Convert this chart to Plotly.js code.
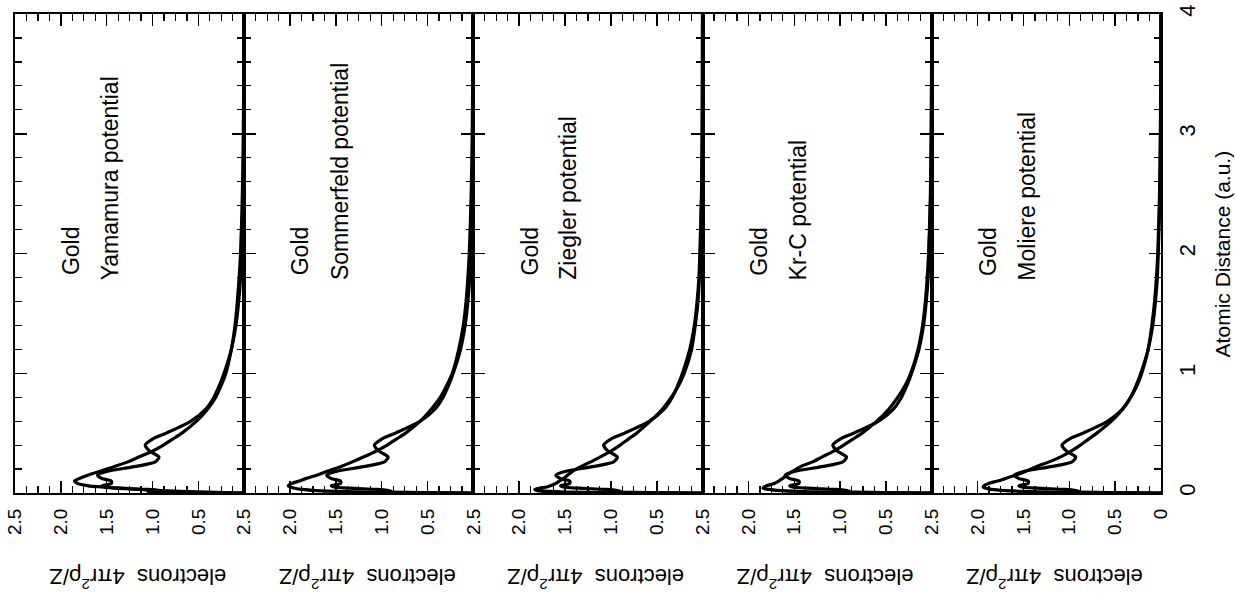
<!DOCTYPE html>
<html>
<head>
<meta charset="utf-8">
<script src="https://cdn.plot.ly/plotly-3.0.1.min.js"></script>
<style>html,body{margin:0;padding:0;background:#fff;}#chart{width:1235px;height:597px;}</style>
</head>
<body>
<div id="chart"></div>
<script>
// Atomic distance grid (a.u.)
const rGrid = [0, 0.005, 0.01, 0.02, 0.03, 0.04, 0.05, 0.06, 0.08, 0.1,
  0.12, 0.15, 0.18, 0.22, 0.26, 0.3, 0.35, 0.4, 0.45, 0.5,
  0.6, 0.7, 0.8, 0.9, 1.0, 1.2, 1.4, 1.6, 1.8, 2.0,
  2.5, 3.0, 3.5, 4.0];
// Shell-structured gold density (electrons 4πr²ρ/Z)
const hartreeFock = [0, 0.8, 1.05, 0.9, 1.05, 1.35, 1.52, 1.55, 1.45, 1.45,
  1.55, 1.6, 1.5, 1.2, 0.97, 0.93, 1.03, 1.08, 1.0, 0.85,
  0.58, 0.42, 0.33, 0.27, 0.22, 0.14, 0.09, 0.06, 0.04, 0.03,
  0.012, 0.005, 0.002, 0.001];
const yamamura = [0, 0.3, 0.5, 0.9, 1.15, 1.4, 1.55, 1.7, 1.82, 1.85,
  1.8, 1.7, 1.58, 1.42, 1.27, 1.15, 1.0, 0.88, 0.78, 0.68,
  0.52, 0.4, 0.31, 0.25, 0.2, 0.14, 0.1, 0.075, 0.055, 0.04,
  0.02, 0.01, 0.005, 0.002];
const sommerfeld = [0, 0.9, 1.3, 1.7, 1.87, 1.95, 2.0, 2.02, 1.98, 1.9,
  1.83, 1.7, 1.6, 1.45, 1.32, 1.2, 1.06, 0.94, 0.84, 0.74,
  0.58, 0.46, 0.36, 0.29, 0.23, 0.16, 0.11, 0.08, 0.06, 0.045,
  0.024, 0.013, 0.007, 0.004];
const ziegler = [0, 1.1, 1.55, 1.8, 1.83, 1.78, 1.7, 1.66, 1.6, 1.56,
  1.52, 1.47, 1.42, 1.33, 1.22, 1.12, 1.0, 0.9, 0.81, 0.72,
  0.57, 0.44, 0.34, 0.26, 0.2, 0.12, 0.08, 0.05, 0.035, 0.025,
  0.01, 0.004, 0.002, 0.001];
const krC = [0, 0.8, 1.3, 1.65, 1.78, 1.84, 1.83, 1.8, 1.72, 1.67,
  1.63, 1.58, 1.52, 1.43, 1.3, 1.2, 1.07, 0.96, 0.86, 0.76,
  0.6, 0.47, 0.37, 0.29, 0.23, 0.15, 0.1, 0.07, 0.05, 0.035,
  0.015, 0.007, 0.003, 0.0015];
const moliere = [0, 0.9, 1.35, 1.7, 1.85, 1.91, 1.94, 1.93, 1.88, 1.78,
  1.7, 1.58, 1.48, 1.36, 1.22, 1.1, 0.98, 0.88, 0.79, 0.7,
  0.54, 0.42, 0.33, 0.26, 0.21, 0.14, 0.1, 0.07, 0.05, 0.035,
  0.016, 0.007, 0.003, 0.0015];

const modelSeries = [yamamura, sommerfeld, ziegler, krC, moliere];
const panelNames = ["Yamamura potential", "Sommerfeld potential", "Ziegler potential", "Kr-C potential", "Moliere potential"];
const elementName = "Gold";
const valueTicks = [2.5, 2.0, 1.5, 1.0, 0.5];
const valueTickText = ["2.5", "2.0", "1.5", "1.0", "0.5"];
const lastValueTicks = [2.5, 2.0, 1.5, 1.0, 0.5, 0];
const lastValueTickText = ["2.5", "2.0", "1.5", "1.0", "0.5", "0"];
const distanceTicks = [0, 1, 2, 3, 4];
const distanceTickText = ["0", "1", "2", "3", "4"];
const valueTitle = "electrons  4πr<sup>2</sup>ρ/Z";
const distanceTitle = "Atomic Distance (a.u.)";

const FONT = "Liberation Sans, Arial, Helvetica, sans-serif";
const traces = [];
const layout = {
  width: 1235, height: 597,
  margin: {l: 15, r: 74, t: 14, b: 104},
  paper_bgcolor: "#fff", plot_bgcolor: "#fff",
  showlegend: false,
  font: {family: FONT, color: "#000", size: 19},
  annotations: []
};

const n = panelNames.length;
for (let k = 0; k < n; k++) {
  const xs = k === 0 ? "x" : "x" + (k + 1);
  const ys = k === 0 ? "y" : "y" + (k + 1);
  const xName = k === 0 ? "xaxis" : "xaxis" + (k + 1);
  const yName = k === 0 ? "yaxis" : "yaxis" + (k + 1);
  const isLast = k === n - 1;
  [hartreeFock, modelSeries[k]].forEach(vals => {
    traces.push({
      type: "scatter", mode: "lines", x: vals, y: rGrid,
      xaxis: xs, yaxis: ys,
      line: {color: "#000", width: 3.2, shape: "spline", smoothing: 0.7},
      hoverinfo: "skip"
    });
  });
  layout[xName] = {
    domain: [k / n, (k + 1) / n], anchor: ys,
    range: [2.5, 0], showgrid: false, zeroline: false,
    showline: true, linecolor: "#000", linewidth: 2, mirror: "ticks",
    ticks: "inside", ticklen: 12, tickwidth: 1.5, tickcolor: "#000",
    tickmode: "array",
    tickvals: isLast ? lastValueTicks : valueTicks,
    ticktext: isLast ? lastValueTickText : valueTickText,
    tickangle: -90, ticklabelstandoff: 6,
    tickfont: {family: FONT, size: 19, color: "#000"},
    minor: {tickmode: "linear", tick0: 0, dtick: 0.125, ticks: "inside", ticklen: 7, tickwidth: 1.2, tickcolor: "#000"}
  };
  layout[yName] = {
    domain: [0, 1], anchor: xs,
    range: [0, 4], showgrid: false, zeroline: false,
    showline: true, linecolor: "#000", linewidth: 2, mirror: "ticks",
    side: isLast ? "right" : "left",
    ticks: "inside", ticklen: 12, tickwidth: 1.5, tickcolor: "#000",
    tickmode: "array", tickvals: distanceTicks, ticktext: distanceTickText,
    showticklabels: isLast, tickangle: -90, ticklabelstandoff: 6,
    tickfont: {family: FONT, size: 22, color: "#000"},
    minor: {tickmode: "linear", tick0: 0, dtick: 0.2, ticks: "inside", ticklen: 7, tickwidth: 1.2, tickcolor: "#000"}
  };
  const dom = xs + " domain";
  layout.annotations.push({
    xref: dom, yref: ys, x: 0.245, y: 1.80, xanchor: "center", yanchor: "bottom",
    text: elementName, textangle: -90, showarrow: false,
    font: {family: FONT, size: 23, color: "#000"}
  });
  layout.annotations.push({
    xref: dom, yref: ys, x: 0.415, y: 1.76, xanchor: "center", yanchor: "bottom",
    text: panelNames[k], textangle: -90, showarrow: false,
    font: {family: FONT, size: 23, color: "#000"}
  });
  layout.annotations.push({
    xref: dom, yref: "paper", x: 0.535, y: -0.178, xanchor: "center", yanchor: "middle",
    text: valueTitle, textangle: 180, showarrow: false,
    font: {family: FONT, size: 22, color: "#000"}
  });
}
layout.annotations.push({
  xref: "paper", yref: "paper", x: 1.054, y: 0.5, xanchor: "center", yanchor: "middle",
  text: distanceTitle, textangle: -90, showarrow: false,
  font: {family: FONT, size: 21, color: "#000"}
});

Plotly.newPlot("chart", traces, layout, {staticPlot: true, displayModeBar: false});
</script>
</body>
</html>
